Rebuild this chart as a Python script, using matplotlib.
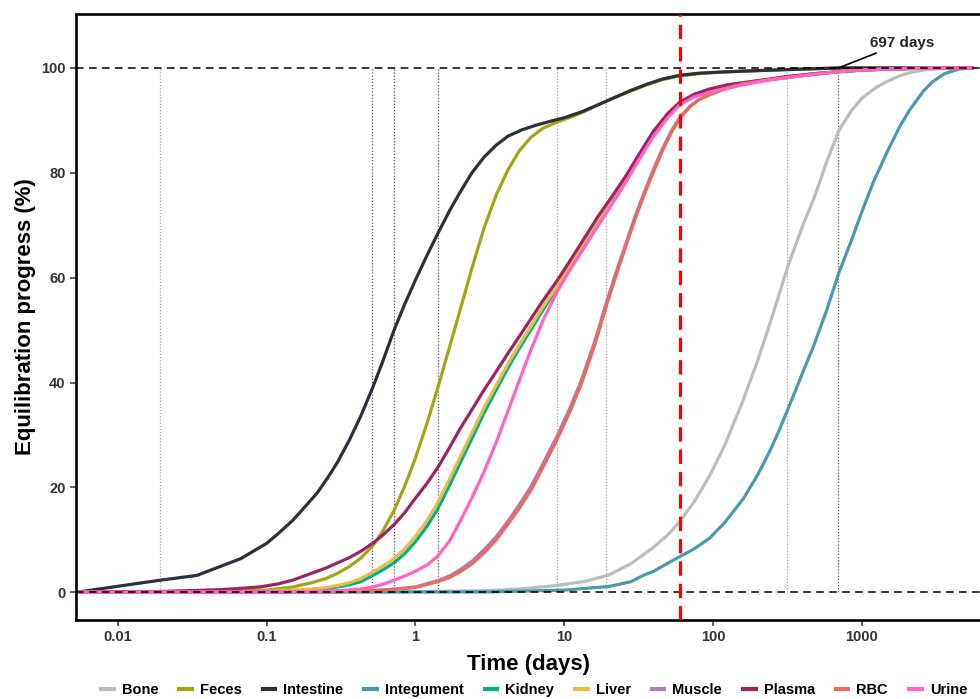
import matplotlib
matplotlib.use("Agg")
import matplotlib.pyplot as plt
from matplotlib.lines import Line2D

plt.rcParams['font.family'] = ['Liberation Sans', 'DejaVu Sans']
plt.rcParams['font.weight'] = 'bold'

# compartments, in plotting order (later ones drawn on top)
names = ['Bone', 'Feces', 'Intestine', 'Integument', 'Kidney',
         'Liver', 'Muscle', 'Plasma', 'RBC', 'Urine']
colors = ['#B7BFB9', '#A2A514', '#2B303B', '#4A9AAE', '#00B283',
          '#E8BC4B', '#B07CB8', '#9C2561', '#E66D5B', '#FF63C3']

# time (days) and equilibration progress (%)
t_bone = [0.0053, 1.0, 3.0, 5.0, 9.0, 14, 20, 28, 40, 50, 60, 75, 95, 120, 160, 200, 240, 280, 320,
          400, 480, 580, 700, 850, 1000, 1250, 1500, 1800, 2100, 2600, 3000, 4000, 5500]
y_bone = [0, 0.1, 0.3, 0.6, 1.3, 2.1, 3.3, 5.4, 8.6, 11.0, 13.5, 17.3, 22.2, 28.0, 36.7, 44.2, 51.0, 57.0, 62.3,
          69.8, 75.3, 82.0, 88.0, 91.8, 94.2, 96.3, 97.5, 98.5, 99.1, 99.6, 99.8, 100, 100]

t_feces = [0.0053, 0.05, 0.1, 0.15, 0.2, 0.25, 0.3, 0.36, 0.43, 0.52, 0.6, 0.72, 0.85, 1.0, 1.2, 1.41,
           1.7, 2.0, 2.4, 2.9, 3.5, 4.2, 5.0, 6.0, 7.2, 9.0, 11, 14, 17, 22, 28, 36, 46, 60, 80, 110,
           160, 320, 700, 5500]
y_feces = [0, 0.1, 0.4, 1.0, 1.8, 2.6, 3.6, 4.9, 6.5, 8.9, 11.5, 15.6, 20.3, 25.5, 32.3, 38.8,
           46.8, 53.8, 61.8, 69.5, 75.8, 80.6, 84.2, 86.8, 88.5, 89.7, 90.6, 91.8, 93.0, 94.4, 95.6, 96.8, 97.8, 98.5, 98.9, 99.2,
           99.4, 99.7, 100, 100]

t_intestine = [0.0053, 0.0193, 0.034, 0.067, 0.1, 0.12, 0.15, 0.18, 0.22, 0.26, 0.3, 0.36, 0.43, 0.52,
               0.6, 0.72, 0.85, 1.0, 1.2, 1.41, 1.7, 2.0, 2.4, 2.9, 3.5, 4.2, 5.2, 6.5, 8.0, 10, 13,
               17, 22, 28, 36, 46, 60, 80, 110, 160, 320, 700, 1500, 5500]
y_intestine = [0, 2.3, 3.2, 6.4, 9.3, 11.2, 13.7, 16.2, 19.0, 22.0, 24.8, 29.0, 33.6, 39.2,
               43.8, 50, 55.0, 59.5, 64.3, 68.3, 72.8, 76.3, 80.0, 83.0, 85.3, 87.0, 88.2, 89.1, 89.8, 90.5, 91.6,
               93.0, 94.4, 95.7, 96.9, 97.9, 98.6, 99.0, 99.2, 99.4, 99.7, 100, 100, 100]

t_integument = [0.0053, 3.0, 10, 20, 28, 34, 40, 54, 60, 75, 95, 120, 160, 200, 240, 280, 320, 400,
                480, 580, 700, 850, 1000, 1200, 1500, 1800, 2100, 2600, 3000, 3600, 4500, 5500]
y_integument = [0, 0.05, 0.4, 1.1, 2.0, 3.2, 4.0, 6.1, 6.8, 8.3, 10.3, 13.3, 17.8, 22.4, 26.8, 31.0, 35.0, 41.8,
                47.3, 53.7, 60.8, 67.0, 72.5, 78.3, 84.3, 88.8, 92.0, 95.6, 97.4, 98.9, 99.8, 100]

t_kidney = [0.0053, 0.05, 0.1, 0.15, 0.2, 0.25, 0.3, 0.36, 0.43, 0.52, 0.6, 0.72, 0.85, 1.0, 1.2, 1.41,
            1.7, 2.0, 2.4, 2.9, 3.5, 4.2, 5.0, 6.0, 7.2, 9.0, 11, 14, 17, 21, 26, 32, 40, 50, 60, 75,
            95, 125, 160, 240, 320, 480, 700, 1000, 1500, 2100, 3000, 5500]
y_kidney = [0, 0.04, 0.15, 0.3, 0.5, 0.7, 1.0, 1.4, 2.0, 3.2, 4.2, 5.6, 7.4, 9.6, 12.6, 15.8,
            20.4, 24.6, 29.3, 34.2, 38.6, 42.8, 46.5, 50.1, 53.8, 58.1, 62.3, 67.2, 71.2, 75.1, 79.0, 83.2, 87.7, 91.2, 93.3, 94.8,
            95.8, 96.6, 97.1, 97.8, 98.3, 98.9, 99.3, 99.6, 99.8, 99.9, 100, 100]

t_liver = [0.0053, 0.05, 0.1, 0.15, 0.2, 0.25, 0.3, 0.36, 0.43, 0.52, 0.6, 0.72, 0.85, 1.0, 1.2, 1.41,
           1.7, 2.0, 2.4, 2.9, 3.5, 4.2, 5.0, 6.0, 7.2, 9.0, 11, 14, 17, 21, 26, 32, 40, 50, 60, 75,
           95, 125, 160, 240, 320, 480, 700, 1000, 1500, 2100, 3000, 5500]
y_liver = [0, 0.05, 0.2, 0.4, 0.6, 0.9, 1.3, 1.8, 2.6, 3.9, 4.9, 6.4, 8.3, 10.6, 13.7, 17.0,
           21.6, 25.8, 30.4, 35.2, 39.5, 43.6, 47.2, 50.8, 54.4, 58.5, 62.6, 67.4, 71.3, 75.2, 79.1, 83.3, 87.8, 91.2, 93.3, 94.8,
           95.8, 96.6, 97.1, 97.8, 98.3, 98.9, 99.3, 99.6, 99.8, 99.9, 100, 100]

t_muscle = [0.0053, 0.3, 0.52, 0.72, 1.0, 1.41, 1.7, 2.0, 2.4, 2.9, 3.5, 4.2, 5.0, 6.0, 7.2, 9.0, 11,
            13, 16, 19.4, 23, 26, 30, 34, 40, 46, 53, 60, 70, 80, 95, 125, 160, 240, 320, 480, 700,
            1000, 1500, 2100, 3000, 5500]
y_muscle = [0, 0.1, 0.3, 0.6, 1.0, 2.2, 3.1, 4.3, 5.9, 8.1, 10.6, 13.6, 16.7, 20.2, 24.5, 29.9, 35.3,
            40.3, 47.7, 55.6, 62.1, 66.5, 71.7, 75.8, 80.8, 84.7, 88.2, 90.6, 92.7, 93.9, 94.9, 96.2, 97.0, 97.8, 98.2, 98.8, 99.3,
            99.6, 99.8, 99.9, 100, 100]

t_plasma = [0.0053, 0.02, 0.05, 0.09, 0.12, 0.15, 0.2, 0.25, 0.3, 0.36, 0.43, 0.52, 0.6, 0.72, 0.85,
            1.0, 1.2, 1.41, 1.7, 2.0, 2.4, 2.9, 3.5, 4.2, 5.0, 6.0, 7.2, 9.0, 11, 14, 17, 21, 26, 32,
            40, 50, 60, 75, 95, 125, 160, 240, 320, 480, 700, 1000, 1500, 2100, 3000, 5500]
y_plasma = [0, 0.15, 0.5, 1.0, 1.6, 2.3, 3.6, 4.6, 5.6, 6.6, 7.8, 9.4, 10.8, 12.9, 15.2,
            17.9, 20.8, 23.7, 27.6, 31.2, 34.8, 38.6, 42.1, 45.6, 48.8, 52.2, 55.6, 59.5, 63.3, 68.0, 71.8, 75.5, 79.4, 83.6,
            88.0, 91.4, 93.5, 95.0, 96.0, 96.8, 97.2, 97.9, 98.4, 98.9, 99.3, 99.6, 99.8, 99.9, 100, 100]

t_rbc = [0.0053, 0.3, 0.52, 0.72, 1.0, 1.41, 1.7, 2.0, 2.4, 2.9, 3.5, 4.2, 5.0, 6.0, 7.2, 9.0, 11,
         13, 16, 19.4, 23, 26, 30, 34, 40, 46, 53, 60, 70, 80, 95, 125, 160, 240, 320, 480, 700,
         1000, 1500, 2100, 3000, 5500]
y_rbc = [0, 0.1, 0.3, 0.55, 0.9, 2.0, 2.8, 3.9, 5.4, 7.5, 10.0, 13.0, 16.0, 19.5, 23.8, 29.2, 34.6,
         39.6, 47.0, 55.0, 61.5, 66.0, 71.2, 75.3, 80.3, 84.3, 87.9, 90.4, 92.6, 93.9, 94.9, 96.2, 97.0, 97.8, 98.2, 98.8, 99.3,
         99.6, 99.8, 99.9, 100, 100]

t_urine = [0.0053, 0.1, 0.2, 0.3, 0.43, 0.52, 0.6, 0.72, 0.85, 1.0, 1.2, 1.41, 1.7, 2.0, 2.4, 2.9, 3.5,
           4.2, 5.0, 6.0, 7.2, 9.0, 11, 14, 17, 21, 26, 32, 40, 50, 60, 75, 95, 125, 160, 240, 320,
           480, 700, 1000, 1500, 2100, 3000, 5500]
y_urine = [0, 0.05, 0.15, 0.3, 0.6, 1.0, 1.5, 2.3, 3.1, 4.0, 5.2, 6.8, 9.8, 13.5, 18.0, 23.0, 28.6,
           34.6, 40.4, 46.3, 51.8, 57.4, 61.6, 66.2, 70.0, 74.0, 78.2, 82.6, 87.0, 90.6, 93.0, 94.5, 95.3, 96.1, 96.8, 97.7, 98.2,
           98.8, 99.3, 99.6, 99.8, 99.9, 100, 100]

series_t = [t_bone, t_feces, t_intestine, t_integument, t_kidney,
            t_liver, t_muscle, t_plasma, t_rbc, t_urine]
series_y = [y_bone, y_feces, y_intestine, y_integument, y_kidney,
            y_liver, y_muscle, y_plasma, y_rbc, y_urine]

# dotted reference times, and the chosen equilibration day
ref_days = [0.0193, 0.514, 0.72, 1.41, 9.0, 19.2, 316, 697]
ref_dark = [False, True, True, True, False, False, False, True]
cutoff_day = 60
x_ticks = [0.01, 0.1, 1, 10, 100, 1000]
x_labels = ['0.01', '0.1', '1', '10', '100', '1000']
y_ticks = [0, 20, 40, 60, 80, 100]

fig = plt.figure(figsize=(9.8, 6.99), dpi=100)
ax = fig.add_axes([0.0776, 0.113, 0.9224, 0.867])

for d, dark in zip(ref_days, ref_dark):
    ax.plot([d, d], [0, 100], linestyle=(0, (1, 1.5)), lw=0.9,
            color='#555555' if dark else '#a0a0a0', zorder=1)

for t, y, c in zip(series_t, series_y, colors):
    ax.plot(t, y, color=c, lw=2.3, solid_joinstyle='round', zorder=2)

ax.axhline(0, color='black', lw=1.1, linestyle=(0, (5, 3.5)), zorder=3)
ax.axhline(100, color='black', lw=1.1, linestyle=(0, (5, 3.5)), zorder=3)
ax.axvline(cutoff_day, color='#ff0000', lw=2.3, linestyle=(0, (4.5, 2.5)), zorder=4)

ax.annotate('697 days', xy=(697, 100), xytext=(1140, 104.8),
            fontsize=11, fontweight='bold', color='#262626', ha='left', va='center',
            arrowprops=dict(arrowstyle='-', color='black', lw=1.2, shrinkA=1, shrinkB=0))

ax.set_xscale('log')
ax.set_xlim(0.005248, 6237)
ax.set_ylim(-5.3, 110.3)
ax.set_xticks(x_ticks)
ax.set_xticklabels(x_labels)
ax.minorticks_off()
ax.set_yticks(y_ticks)
ax.tick_params(axis='both', labelsize=10.5, labelcolor='#333333', color='#333333',
               length=4, width=1.1)
for lab in ax.get_xticklabels() + ax.get_yticklabels():
    lab.set_fontweight('bold')

for side in ['left', 'top', 'bottom']:
    ax.spines[side].set_linewidth(1.9)
ax.spines['right'].set_visible(False)

ax.set_xlabel('Time (days)', fontsize=16, fontweight='bold', labelpad=7)
ax.set_ylabel('Equilibration progress (%)', fontsize=16, fontweight='bold', labelpad=4)

handles = [Line2D([0], [0], color=c, lw=3) for c in colors]
fig.legend(handles, names, loc='center', bbox_to_anchor=(0.545, 0.013), ncol=10,
           frameon=False, handlelength=0.85, handletextpad=0.55, columnspacing=1.45,
           borderpad=0.2, prop={'size': 10.5, 'weight': 'bold'})

fig.savefig('out.png', dpi=100)
